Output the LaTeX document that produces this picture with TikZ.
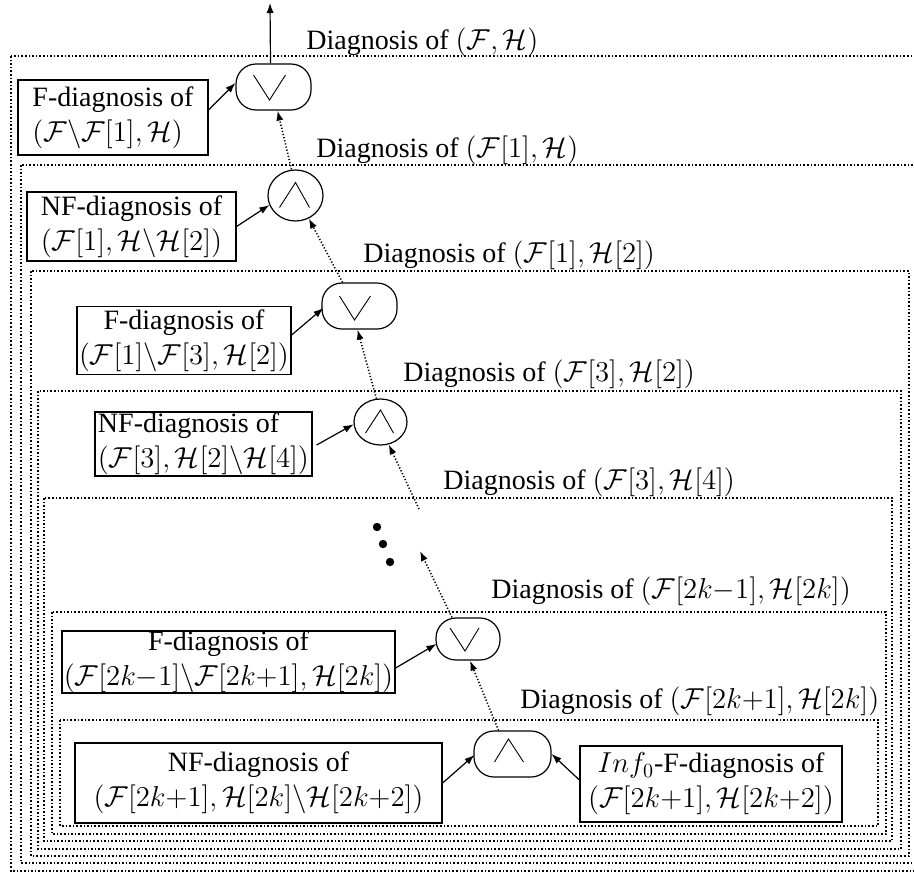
\documentclass[tikz,border=0pt]{standalone}
\usepackage[no-math]{fontspec}
\setmainfont{Liberation Serif}
\usetikzlibrary{arrows.meta,shapes.geometric}

\begin{document}
\begin{tikzpicture}[x=0.5pt,y=-0.5pt,
  every node/.style={font=\fontsize{14}{17.5}\selectfont},
  frame/.style={densely dotted, line width=0.8pt},
  lbl/.style={anchor=base west, inner sep=0pt},
  infobox/.style={draw, line width=0.6pt, align=center, inner sep=0pt},
  leftbox/.style={infobox, align=left},
  orgate/.style={draw, line width=0.6pt, rounded corners=10pt, inner sep=0pt},
  andgate/.style={draw, line width=0.6pt, ellipse, inner sep=0pt},
  sym/.style={line width=0.45pt},
  feed/.style={-{Latex[length=5pt,width=3.6pt]}, line width=0.6pt},
  chain/.style={feed, densely dotted, line width=0.8pt},
  dotmark/.style={fill=black, circle, inner sep=0pt, minimum size=4.2pt},
]
\useasboundingbox (0,0) rectangle (914,873);
\clip (0,0) rectangle (914,873);

% nested scopes of the diagnosis
\draw[frame] (11,56)  rectangle (930,871);
\draw[frame] (21,165) rectangle (921,863);
\draw[frame] (31,271) rectangle (909,856);
\draw[frame] (38,391) rectangle (901,849);
\draw[frame] (44,498) rectangle (892,841);
\draw[frame] (52,612) rectangle (886,834);
\draw[frame] (60,720) rectangle (878,826);

\node[lbl] (l1) at (306,49)  {Diagnosis of $(\mathcal{F},\mathcal{H})$};
\node[lbl] (l2) at (316,157) {Diagnosis of $(\mathcal{F}[1],\mathcal{H})$};
\node[lbl] (l3) at (363,262) {Diagnosis of $(\mathcal{F}[1],\mathcal{H}[2])$};
\node[lbl] (l4) at (403,381) {Diagnosis of $(\mathcal{F}[3],\mathcal{H}[2])$};
\node[lbl] (l5) at (443,489) {Diagnosis of $(\mathcal{F}[3],\mathcal{H}[4])$};
\node[lbl] (l6) at (491,598) {Diagnosis of $(\mathcal{F}[2k{-}1],\mathcal{H}[2k])$};
\node[lbl] (l7) at (520,708) {Diagnosis of $(\mathcal{F}[2k{+}1],\mathcal{H}[2k])$};

% gates
\node[orgate,  minimum width=37.5pt, minimum height=23pt] (or1)  at (273.5,87) {};
\node[andgate, minimum width=27.5pt, minimum height=25.5pt] (and1) at (295.5,195.5) {};
\node[orgate,  minimum width=37.5pt, minimum height=23pt] (or2)  at (359.5,306) {};
\node[andgate, minimum width=26.5pt, minimum height=23pt] (and2) at (380.5,422) {};
\node[orgate,  minimum width=32pt,   minimum height=21pt] (or3)  at (468,639) {};
\node[orgate,  minimum width=38.5pt, minimum height=23pt] (and3) at (512.5,754) {};

% gate symbols
\draw[sym] ([shift={(-20,-12)}]or1.center) -- ([shift={(-4,13)}]or1.center) -- ([shift={(12,-12)}]or1.center);
\draw[sym] ([shift={(-16,12)}]and1.center) -- ([shift={(0,-13)}]and1.center) -- ([shift={(14,12)}]and1.center);
\draw[sym] ([shift={(-20,-10)}]or2.center) -- ([shift={(-5,14)}]or2.center) -- ([shift={(11,-10)}]or2.center);
\draw[sym] ([shift={(-15,11)}]and2.center) -- ([shift={(0,-12)}]and2.center) -- ([shift={(13,11)}]and2.center);
\draw[sym] ([shift={(-18,-11)}]or3.center) -- ([shift={(-3,12)}]or3.center) -- ([shift={(11,-11)}]or3.center);
\draw[sym] ([shift={(-18,8)}]and3.center) -- ([shift={(-4,-15)}]and3.center) -- ([shift={(11,8)}]and3.center);

% input boxes
\node[leftbox, minimum width=95pt,  minimum height=37.5pt] (b1) at (113,117.5)
  {F-diagnosis of\\$(\mathcal{F}\backslash\mathcal{F}[1],\mathcal{H})$};
\node[leftbox, minimum width=104.5pt, minimum height=34.5pt] (b2) at (131.5,226.5)
  {NF-diagnosis of\\$(\mathcal{F}[1],\mathcal{H}\backslash\mathcal{H}[2])$};
\node[infobox, minimum width=107pt, minimum height=34pt] (b3) at (184,340.5)
  {F-diagnosis of\\$(\mathcal{F}[1]\backslash\mathcal{F}[3],\mathcal{H}[2])$};
\node[leftbox, minimum width=108.5pt, minimum height=32pt] (b4) at (203.5,444)
  {NF-diagnosis of\\$(\mathcal{F}[3],\mathcal{H}[2]\backslash\mathcal{H}[4])$};
\node[infobox, minimum width=166.5pt, minimum height=30pt] (b5) at (228.5,662)
  {F-diagnosis of\\$(\mathcal{F}[2k{-}1]\backslash\mathcal{F}[2k{+}1],\mathcal{H}[2k])$};
\node[infobox, minimum width=183.5pt, minimum height=40pt] (b6) at (258.5,783)
  {NF-diagnosis of\\$(\mathcal{F}[2k{+}1],\mathcal{H}[2k]\backslash\mathcal{H}[2k{+}2])$};
\node[infobox, minimum width=131pt, minimum height=38pt] (b7) at (711,784)
  {$Inf_0$-F-diagnosis of\\$(\mathcal{F}[2k{+}1],\mathcal{H}[2k{+}2])$};

% elided levels
\node[dotmark] (d1) at (377,527) {};
\node[dotmark] (d2) at (383,544) {};
\node[dotmark] (d3) at (390,562) {};
\coordinate (gapup) at (419,509);
\coordinate (gapdown) at (420,551);
\coordinate (out) at (270,3);

% inputs into gates
\draw[feed] ([shift={(0,-7.5)}]b1.east) -- ([shift={(0,-4)}]or1.west);
\draw[feed] (b2.east) -- (and1.200);
\draw[feed] ([shift={(0,-5.5)}]b3.east) -- ([shift={(2,2)}]or2.west);
\draw[feed] ([shift={(4,1)}]b4.east) -- (and2.185);
\draw[feed] ([shift={(0,6)}]b5.east) -- ([shift={(1,5)}]or3.west);
\draw[feed] (b6.east) -- ([shift={(1,1)}]and3.west);
\draw[feed] ([shift={(0,-4)}]b7.west) -- (and3.east);

% chain of results
\draw[feed] ([shift={(-3,0)}]or1.north) -- (out);
\draw[chain] ([shift={(-4,0)}]and1.north) -- ([shift={(4,0)}]or1.south);
\draw[chain] ([shift={(-17,0)}]or2.north) -- (and1.300);
\draw[chain] (and2.100) -- ([shift={(-2,0)}]or2.south);
\draw[chain] (gapup) -- (and2.290);
\draw[chain] ([shift={(-16,0)}]or3.north) -- (gapdown);
\draw[chain] ([shift={(-14,0)}]and3.north) -- ([shift={(2,0)}]or3.south);
\end{tikzpicture}
\end{document}
